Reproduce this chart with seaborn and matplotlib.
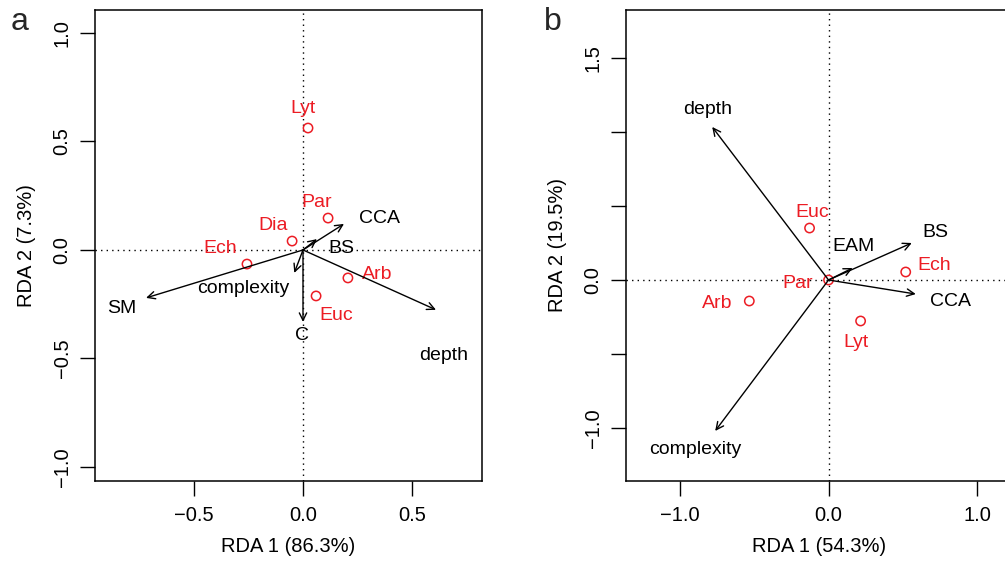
import matplotlib
matplotlib.use("Agg")
import matplotlib.pyplot as plt
import seaborn as sns
import pandas as pd

sns.set_theme(style="white")
plt.rcParams['font.family'] = ['Liberation Sans', 'DejaVu Sans']

# ---- Panel a data ----
a_species = ["Lyt", "Par", "Dia", "Ech", "Arb", "Euc"]
a_sp_x = [0.023, 0.115, -0.050, -0.257, 0.206, 0.060]
a_sp_y = [0.562, 0.147, 0.041, -0.065, -0.129, -0.212]
a_sp_lx = [0.000, 0.064, -0.138, -0.381, 0.339, 0.151]
a_sp_ly = [0.654, 0.221, 0.111, 0.005, -0.111, -0.304]

a_env = ["SM", "complexity", "C", "BS", "CCA", "depth"]
a_env_x = [-0.720, -0.040, 0.000, 0.064, 0.188, 0.610]
a_env_y = [-0.221, -0.106, -0.332, 0.050, 0.120, -0.276]
a_env_lx = [-0.830, -0.275, -0.005, 0.174, 0.349, 0.646]
a_env_ly = [-0.272, -0.180, -0.396, 0.005, 0.143, -0.488]

a_xticks = [-0.5, 0.0, 0.5]
a_xticklabels = ["\u22120.5", "0.0", "0.5"]
a_yticks = [-1.0, -0.5, 0.0, 0.5, 1.0]
a_yticklabels = ["\u22121.0", "\u22120.5", "0.0", "0.5", "1.0"]

# ---- Panel b data ----
b_species = ["Euc", "Ech", "Par", "Arb", "Lyt"]
b_sp_x = [-0.128, 0.520, 0.000, -0.534, 0.216]
b_sp_y = [0.351, 0.054, 0.000, -0.142, -0.277]
b_sp_lx = [-0.108, 0.709, -0.209, -0.750, 0.182]
b_sp_ly = [0.459, 0.095, -0.027, -0.162, -0.425]

b_env = ["depth", "BS", "EAM", "CCA", "complexity"]
b_env_x = [-0.784, 0.561, 0.162, 0.588, -0.764]
b_env_y = [1.034, 0.250, 0.081, -0.095, -1.020]
b_env_lx = [-0.818, 0.723, 0.169, 0.824, -0.899]
b_env_ly = [1.149, 0.324, 0.223, -0.142, -1.142]

b_xticks = [-1.0, 0.0, 1.0]
b_xticklabels = ["\u22121.0", "0.0", "1.0"]
b_yticks = [-1.0, -0.5, 0.0, 0.5, 1.0, 1.5]
b_yticklabels = ["\u22121.0", "", "0.0", "", "", "1.5"]

RED = "#EC1C24"
FS = 14
FS_AX = 14.5

fig = plt.figure(figsize=(10.05, 5.62), dpi=100)
ax_a = fig.add_axes([95/1005, 81/562, 387/1005, 471/562])
ax_b = fig.add_axes([626/1005, 81/562, 387/1005, 471/562])


def draw(ax, sp, sx, sy, slx, sly, env, ex, ey, elx, ely,
         xlim, ylim, xt, xtl, yt, ytl, xlabel, ylabel):
    ax.axhline(0, color="black", ls=(0, (1, 3)), lw=1, zorder=1)
    ax.axvline(0, color="black", ls=(0, (1, 3)), lw=1, zorder=1)
    df = pd.DataFrame({"x": sx, "y": sy, "sp": sp})
    sns.scatterplot(data=df, x="x", y="y", ax=ax, s=45, marker="o",
                    facecolors="none", edgecolor=RED, linewidth=1.1, zorder=3)
    for name, lx, ly in zip(sp, slx, sly):
        ax.text(lx, ly, name, color=RED, fontsize=FS, ha="center", va="center")
    for name, x, y, lx, ly in zip(env, ex, ey, elx, ely):
        ax.annotate("", xy=(x, y), xytext=(0, 0),
                    arrowprops=dict(arrowstyle="->,head_length=0.45,head_width=0.22",
                                    color="black", lw=1.0, shrinkA=0, shrinkB=0))
        ax.text(lx, ly, name, color="black", fontsize=FS, ha="center", va="center")
    ax.set_xlim(*xlim)
    ax.set_ylim(*ylim)
    ax.set_xticks(xt)
    ax.set_xticklabels(xtl)
    ax.set_yticks(yt)
    ax.set_yticklabels(ytl, rotation=90, va="center")
    ax.tick_params(axis="both", direction="out", length=10.8, width=1,
                   labelsize=FS_AX, color="black", labelcolor="black",
                   left=True, bottom=True)
    ax.tick_params(axis="x", pad=7)
    ax.tick_params(axis="y", pad=6)
    for s in ax.spines.values():
        s.set_color("black")
        s.set_linewidth(1.1)
        s.set_visible(True)
    ax.set_xlabel(xlabel, fontsize=FS_AX, color="black", labelpad=9)
    ax.set_ylabel(ylabel, fontsize=FS_AX, color="black", labelpad=12)
    ax.grid(False)
    ax.set_facecolor("white")
    return ax


draw(ax_a, a_species, a_sp_x, a_sp_y, a_sp_lx, a_sp_ly,
     a_env, a_env_x, a_env_y, a_env_lx, a_env_ly,
     (-0.954, 0.821), (-1.065, 1.106), a_xticks, a_xticklabels,
     a_yticks, a_yticklabels, "RDA 1 (86.3%)", "RDA 2 (7.3%)")
draw(ax_b, b_species, b_sp_x, b_sp_y, b_sp_lx, b_sp_ly,
     b_env, b_env_x, b_env_y, b_env_lx, b_env_ly,
     (-1.365, 1.243), (-1.358, 1.824), b_xticks, b_xticklabels,
     b_yticks, b_yticklabels, "RDA 1 (54.3%)", "RDA 2 (19.5%)")

fig.text(20/1005, 1 - 22/562, "a", fontsize=23, ha="center", va="center")
fig.text(553/1005, 1 - 22/562, "b", fontsize=23, ha="center", va="center")

fig.savefig("out.png", dpi=100, facecolor="white")
